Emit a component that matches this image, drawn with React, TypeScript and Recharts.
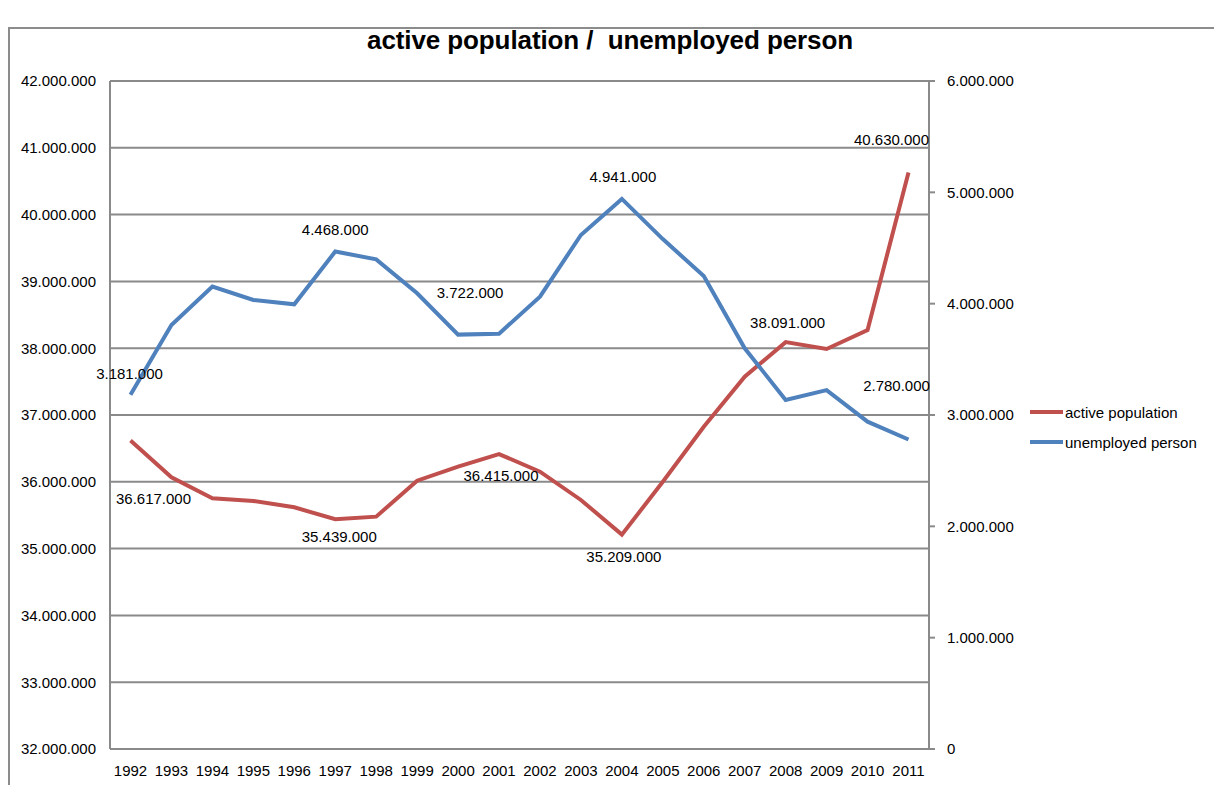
import React from 'react';
import { LineChart, Line, XAxis, YAxis, CartesianGrid } from 'recharts';

const years = ['1992','1993','1994','1995','1996','1997','1998','1999','2000','2001','2002','2003','2004','2005','2006','2007','2008','2009','2010','2011'];
const activePopulation = [36617000, 36067000, 35753000, 35713000, 35618000, 35439000, 35478000, 36017000, 36226000, 36415000, 36152000, 35728000, 35209000, 36000000, 36825000, 37574000, 38091000, 37988000, 38272000, 40630000];
const unemployedPerson = [3181000, 3808000, 4153000, 4033000, 3994000, 4468000, 4398000, 4093000, 3722000, 3730000, 4063000, 4617000, 4941000, 4580000, 4248000, 3599000, 3135000, 3224000, 2940000, 2780000];
const leftTicks = [32000000, 33000000, 34000000, 35000000, 36000000, 37000000, 38000000, 39000000, 40000000, 41000000, 42000000];
const rightTicks = [0, 1000000, 2000000, 3000000, 4000000, 5000000, 6000000];
const seriesNames = ['active population', 'unemployed person'];

// label placement (style): index -> [dx, dy]
const activeLabelOffsets: Record<number, [number, number]> = { 0: [23, 58], 5: [4, 17], 9: [2, 21], 12: [2, 22], 16: [2, -20], 19: [-17, -33] };
const unemployedLabelOffsets: Record<number, [number, number]> = { 0: [-1, -21], 5: [0, -22], 8: [12, -42], 12: [1, -22], 19: [-12, -54] };

const data = years.map((y, i) => ({ year: y, active: activePopulation[i], unemployed: unemployedPerson[i] }));

const fmt = (n: number) => String(Math.round(n)).replace(/\B(?=(\d{3})+(?!\d))/g, '.');

const FONT = '"Liberation Sans", Arial, sans-serif';
const RED = '#C0504D';
const BLUE = '#4F81BD';
const GRID = '#8a8a8a';

const makeLabel = (offsets: Record<number, [number, number]>) => (props: any) => {
  const { x, y, value, index } = props;
  const off = offsets[index];
  if (!off) return null;
  return (
    <text key={`l${index}`} x={x + off[0]} y={y + off[1]} textAnchor="middle" dominantBaseline="central" fontSize={15} fontFamily={FONT} fill="#000">
      {fmt(value)}
    </text>
  );
};

const tickStyle = { fontSize: 15, fontFamily: FONT, fill: '#000' };

export default function App() {
  return (
    <div style={{ position: 'absolute', left: 0, top: 0, width: 1214, height: 785, background: '#fff', overflow: 'hidden' }}>
      <div style={{ position: 'absolute', left: 8, top: 27, width: 1220, height: 800, borderTop: '2px solid #8c8c8c', borderLeft: '2px solid #8c8c8c' }} />
      <div style={{ position: 'absolute', left: 0, width: 1220, top: 25, textAlign: 'center', fontFamily: FONT, fontWeight: 'bold', fontSize: 26, letterSpacing: -0.1, color: '#000' }}>
        active population /&nbsp;&nbsp;unemployed person
      </div>
      <div style={{ position: 'absolute', left: 0, top: 0 }}>
        <LineChart width={1214} height={785} data={data} margin={{ top: 81, left: 109, right: 284, bottom: 35 }}>
          <CartesianGrid yAxisId="left" vertical={false} stroke={GRID} strokeWidth={2} />
          <XAxis dataKey="year" height={1} padding={{ left: 20.5, right: 20.5 }} tickSize={0} tickMargin={16} axisLine={{ stroke: GRID, strokeWidth: 2 }} tickLine={false} tick={tickStyle} interval={0} />
          <YAxis yAxisId="left" orientation="left" width={1} domain={[32000000, 42000000]} ticks={leftTicks} tickFormatter={fmt} axisLine={{ stroke: GRID, strokeWidth: 2 }} tickLine={false} tickSize={0} tickMargin={14} tick={tickStyle} interval={0} />
          <YAxis yAxisId="right" orientation="right" width={1} domain={[0, 6000000]} ticks={rightTicks} tickFormatter={fmt} axisLine={{ stroke: GRID, strokeWidth: 2 }} tickLine={{ stroke: GRID, strokeWidth: 2 }} tickSize={6} tickMargin={12} tick={tickStyle} interval={0} />
          <Line yAxisId="left" type="linear" dataKey="active" name={seriesNames[0]} stroke={RED} strokeWidth={4} dot={false} isAnimationActive={false} label={makeLabel(activeLabelOffsets)} />
          <Line yAxisId="right" type="linear" dataKey="unemployed" name={seriesNames[1]} stroke={BLUE} strokeWidth={4} dot={false} isAnimationActive={false} label={makeLabel(unemployedLabelOffsets)} />
        </LineChart>
      </div>
      <div style={{ position: 'absolute', left: 1030, top: 397, fontFamily: FONT, fontSize: 15, color: '#000' }}>
        {[{ c: RED, t: seriesNames[0] }, { c: BLUE, t: seriesNames[1] }].map((e) => (
          <div key={e.t} style={{ display: 'flex', alignItems: 'center', height: 30 }}>
            <div style={{ width: 33, height: 4, background: e.c, marginRight: 2 }} />
            <span>{e.t}</span>
          </div>
        ))}
      </div>
    </div>
  );
}
